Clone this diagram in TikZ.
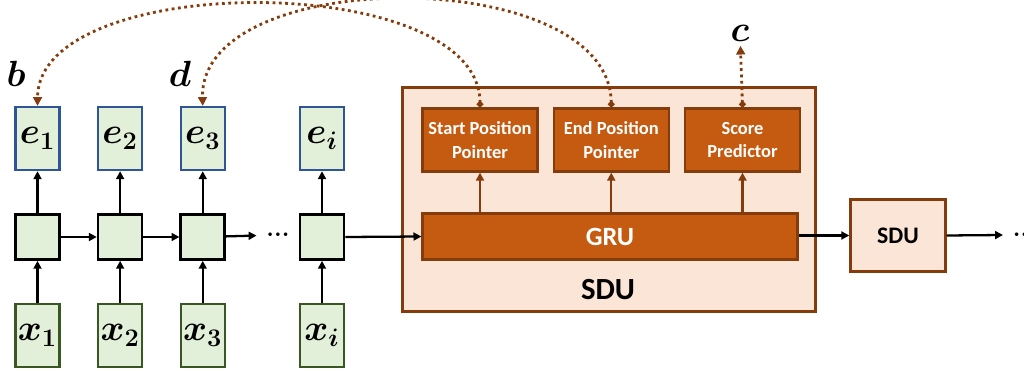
\documentclass[tikz,border=0pt]{standalone}
\usepackage{amsmath,amssymb,bm}
\usepackage{fontspec}
\setsansfont{Carlito}
\usetikzlibrary{positioning,arrows.meta}

\definecolor{orng}{HTML}{C55A11}
\definecolor{brwn}{HTML}{843C0C}
\definecolor{peach}{HTML}{FBE5D6}
\definecolor{lgreen}{HTML}{E2F0D9}
\definecolor{dgreen}{HTML}{385723}
\definecolor{eblue}{HTML}{2F5597}

\begin{document}
\begin{tikzpicture}[x=0.02cm, y=-0.02cm, >={Triangle[length=4.5pt,width=4.5pt]},
    node distance=0.84cm and 0.72cm, line width=1.3pt]
  \tikzstyle{emb}=[draw=eblue, fill=lgreen, minimum width=0.88cm, minimum height=1.26cm, inner sep=0pt, line width=1.3pt, font=\fontsize{20}{24}\selectfont]
  \tikzstyle{inp}=[emb, draw=dgreen]
  \tikzstyle{cell}=[draw=black, fill=lgreen, minimum width=0.88cm, minimum height=0.9cm, inner sep=0pt, line width=1.5pt]
  \tikzstyle{ptr}=[draw=brwn, fill=orng, text=white, minimum width=2.3cm, minimum height=1.26cm, inner sep=0pt, align=center, line width=1.3pt, font=\sffamily\bfseries\fontsize{10.5}{13.5}\selectfont]
  \tikzstyle{lbl}=[font=\fontsize{20}{24}\selectfont, inner sep=2pt]
  \tikzstyle{dots}=[font=\bfseries\fontsize{14}{14}\selectfont, inner xsep=5pt, inner ysep=0pt]
  \tikzstyle{link}=[brwn, dotted, line width=1.6pt]

  \useasboundingbox (0,0) rectangle (1024,371);

  % encoder
  \node[cell] (h1) at (37.5,237) {};
  \node[cell, right=of h1] (h2) {};
  \node[cell, right=of h2] (h3) {};
  \node[dots] (dt1) at (278,235) {...};
  \node[cell] (hi) at (322,237) {};

  \node[emb, above=of h1] (e1) {$\bm{e_1}$};
  \node[emb, above=of h2] (e2) {$\bm{e_2}$};
  \node[emb, above=of h3] (e3) {$\bm{e_3}$};
  \node[emb, above=of hi] (ei) {$\bm{e_i}$};

  \node[inp, below=of h1] (x1) {$\bm{x_1}$};
  \node[inp, below=of h2] (x2) {$\bm{x_2}$};
  \node[inp, below=of h3] (x3) {$\bm{x_3}$};
  \node[inp, below=of hi] (xi) {$\bm{x_i}$};

  \node[lbl] (b) at (16,74) {$\bm{b}$};
  \node[lbl] (d) at (180,74) {$\bm{d}$};

  % SDU
  \node[draw=brwn, fill=peach, line width=1.4pt, minimum width=8.26cm, minimum height=4.48cm] (sdu) at (609,199.5) {};
  \node[ptr] (sp) at (480,140) {Start Position\\Pointer};
  \node[ptr, right=0.28cm of sp] (ep) {End Position\\Pointer};
  \node[ptr, right=0.28cm of ep] (sc) {Score\\Predictor};
  \node[ptr, minimum width=7.5cm, minimum height=0.92cm, font=\sffamily\bfseries\fontsize{15}{15}\selectfont] (gru) at (610,236.5) {GRU};
  \node[font=\sffamily\bfseries\fontsize{17.5}{17.5}\selectfont] (sdut) at (608,290) {SDU};
  \node[lbl] (c) at (740,33) {$\bm{c}$};

  \node[draw=brwn, fill=peach, line width=1.4pt, minimum width=1.9cm, minimum height=1.44cm, font=\sffamily\bfseries\fontsize{13.5}{13.5}\selectfont] (sdu2) at (898,235.5) {SDU};
  \node[dots, anchor=west] (dt2) at (1003,235) {...};

  % connectors
  \draw[->] (h1) -- (h2);
  \draw[->] (h2) -- (h3);
  \draw[->] (h3) -- (dt1);
  \foreach \n in {1,2,3,i} {
    \draw[->] (x\n) -- (h\n);
    \draw[->] (h\n) -- (e\n);
  }
  \draw[->] (hi.east) -- (gru.west);
  \draw[->] (gru.east |- sdu2) -- (sdu2.west);
  \draw[->] (sdu2.east) -- (dt2.west);

  \draw[->, brwn] (gru.north -| sp) -- (sp.south);
  \draw[->, brwn] (gru.north -| ep) -- (ep.south);
  \draw[->, brwn] (gru.north -| sc) -- (sc.south);

  \draw[link, {Circle[length=3.5pt]}-{Triangle[length=5pt,width=5pt]}] (sp.north) .. controls (480,-30) and (38,-30) .. (e1.north);
  \draw[link, {Circle[length=3.5pt]}-{Triangle[length=5pt,width=5pt]}] (ep.north) .. controls (610,-36) and (199,-36) .. (e3.north);
  \draw[link, {Circle[length=3.5pt]}-{Triangle[length=5pt,width=5pt]}] (sc.north) -- (c);
\end{tikzpicture}
\end{document}
